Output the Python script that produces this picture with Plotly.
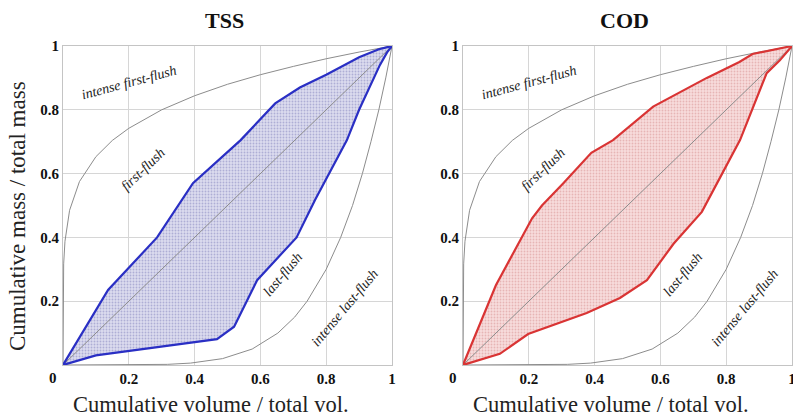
import plotly.graph_objects as go

W, H = 793, 417

# ---- data ----
tss_upper_x = [0, 0.137, 0.286, 0.395, 0.54, 0.645, 0.72, 0.80, 0.90, 0.96, 1.0]
tss_upper_y = [0, 0.235, 0.40, 0.57, 0.705, 0.82, 0.87, 0.91, 0.965, 0.99, 1.0]
tss_lower_x = [0, 0.10, 0.468, 0.52, 0.59, 0.71, 0.766, 0.863, 0.90, 0.963, 0.985, 1.0]
tss_lower_y = [0, 0.03, 0.081, 0.12, 0.266, 0.40, 0.517, 0.705, 0.80, 0.94, 0.98, 1.0]

cod_upper_x = [0, 0.10, 0.21, 0.24, 0.305, 0.39, 0.456, 0.578, 0.741, 0.84, 0.88, 1.0]
cod_upper_y = [0, 0.25, 0.46, 0.50, 0.57, 0.665, 0.705, 0.81, 0.90, 0.95, 0.975, 1.0]
cod_lower_x = [0, 0.112, 0.198, 0.376, 0.477, 0.559, 0.64, 0.726, 0.78, 0.842, 0.923, 0.963, 1.0]
cod_lower_y = [0, 0.035, 0.097, 0.163, 0.21, 0.266, 0.38, 0.48, 0.585, 0.705, 0.915, 0.955, 1.0]

# gray reference boundary curve (intense first-flush)
ref_x = [0, 0.0001, 0.0005, 0.002, 0.006, 0.02, 0.05, 0.1, 0.15, 0.2, 0.3, 0.4,
         0.5, 0.6, 0.7, 0.8, 0.9, 1.0]
ref_y = [0, 0.18, 0.245, 0.317, 0.388, 0.485, 0.575, 0.653, 0.704, 0.742, 0.80,
         0.844, 0.88, 0.91, 0.936, 0.96, 0.981, 1.0]
diag = [0, 1]

tick_vals = [0.2, 0.4, 0.6, 0.8, 1]
tick_text = ["0.2", "0.4", "0.6", "0.8", "1"]

panels = [
    dict(name="TSS", ux=tss_upper_x, uy=tss_upper_y, lx=tss_lower_x, ly=tss_lower_y,
         line="#2a2fc4", bg="#dcdcee", fg="#8080bb", x0=63, x1=392),
    dict(name="COD", ux=cod_upper_x, uy=cod_upper_y, lx=cod_lower_x, ly=cod_lower_y,
         line="#d93434", bg="#f7dcdc", fg="#d58e8e", x0=463, x1=792),
]

PLOT_TOP, PLOT_BOT = 46, 365
SERIF = "Liberation Serif"


def px(x):
    return x / W


def py(y):
    return 1 - y / H


fig = go.Figure()
annotations = []

for i, p in enumerate(panels):
    ax = "" if i == 0 else str(i + 1)
    xa, ya = "x" + ax, "y" + ax
    # filled region
    poly_x = list(p["ux"]) + list(reversed(p["lx"]))
    poly_y = list(p["uy"]) + list(reversed(p["ly"]))
    fig.add_trace(go.Scatter(
        x=poly_x, y=poly_y, mode="lines", fill="toself",
        fillcolor=p["bg"], line=dict(width=0),
        fillpattern=dict(shape=".", bgcolor=p["bg"], fgcolor=p["fg"], size=3, solidity=0.3),
        xaxis=xa, yaxis=ya, hoverinfo="skip", showlegend=False))
    # gray curves
    gray = dict(color="#8c8c8c", width=1)
    fig.add_trace(go.Scatter(x=ref_x, y=ref_y, mode="lines", line=gray,
                             xaxis=xa, yaxis=ya, showlegend=False))
    fig.add_trace(go.Scatter(x=ref_y, y=ref_x, mode="lines", line=gray,
                             xaxis=xa, yaxis=ya, showlegend=False))
    fig.add_trace(go.Scatter(x=diag, y=diag, mode="lines", line=gray,
                             xaxis=xa, yaxis=ya, showlegend=False))
    # boundary lines
    for xs, ys in ((p["ux"], p["uy"]), (p["lx"], p["ly"])):
        fig.add_trace(go.Scatter(x=xs, y=ys, mode="lines",
                                 line=dict(color=p["line"], width=2.2),
                                 xaxis=xa, yaxis=ya, showlegend=False))

    dom_x = [px(p["x0"]), px(p["x1"])]
    dom_y = [py(PLOT_BOT), py(PLOT_TOP)]
    axis_common = dict(range=[0, 1], tickvals=tick_vals, ticktext=tick_text,
                       showgrid=True, gridcolor="#d6d6d6", gridwidth=1,
                       showline=True, linecolor="#c4c4c4", linewidth=1, mirror=True,
                       zeroline=False, ticks="", automargin=False,
                       ticklabeloverflow="allow",
                       tickfont=dict(family=SERIF, size=15, color="#111111", weight="bold"))
    fig.update_layout(**{
        "xaxis" + ax: dict(domain=dom_x, anchor=ya, **axis_common),
        "yaxis" + ax: dict(domain=dom_y, anchor=xa, **axis_common),
    })

    cx = (p["x0"] + p["x1"]) / 2
    base = dict(xref="paper", yref="paper", showarrow=False, xanchor="center", yanchor="middle")
    # title
    annotations.append(dict(text="<b>%s</b>" % p["name"], x=px(cx - 3), y=py(20),
                            font=dict(family=SERIF, size=22, color="#111111"), **base))
    # x-axis title
    annotations.append(dict(text="Cumulative volume / total vol.", x=px(cx - 17), y=py(404),
                            font=dict(family=SERIF, size=22.5, color="#222222"), **base))
    # corner zero
    annotations.append(dict(text="<b>0</b>", x=px(p["x0"] - 10), y=py(378),
                            font=dict(family=SERIF, size=15, color="#111111"), **base))
    # zone labels
    lab_font = dict(family=SERIF, size=14, color="#222222")
    for txt, lx, ly, ang in (("<i>intense first-flush</i>", 0.200, 0.887, -15),
                             ("<i>first-flush</i>", 0.243, 0.612, -44),
                             ("<i>last-flush</i>", 0.668, 0.283, -50),
                             ("<i>intense last-flush</i>", 0.857, 0.18, -50)):
        annotations.append(dict(text=txt, x=lx, y=ly, xref=xa, yref=ya, showarrow=False,
                                xanchor="center", yanchor="middle",
                                textangle=ang, font=lab_font))

# y-axis title
annotations.append(dict(text="Cumulative mass / total mass", x=px(17), y=py(216),
                        xref="paper", yref="paper", showarrow=False, textangle=-90,
                        xanchor="center", yanchor="middle",
                        font=dict(family=SERIF, size=23, color="#222222")))

fig.update_layout(width=W, height=H,
                  margin=dict(l=0, r=0, t=0, b=0, pad=0, autoexpand=False),
                  paper_bgcolor="white", plot_bgcolor="white",
                  annotations=annotations, showlegend=False)

fig.write_html("out.html",
               config={"displayModeBar": False},
               post_script="document.body.style.margin='0';"
                           "document.body.style.overflow='hidden';"
                           "document.documentElement.style.overflow='hidden';")
